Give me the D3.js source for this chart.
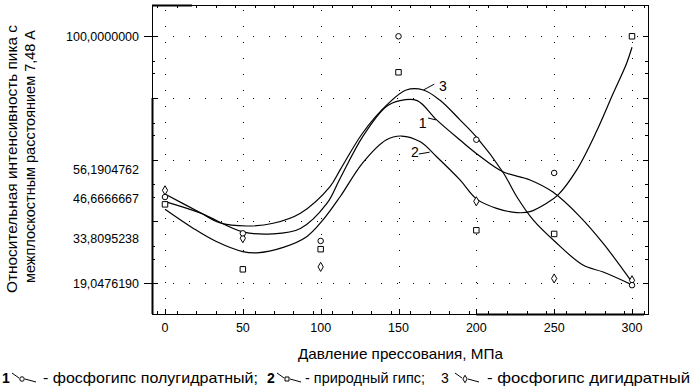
<!DOCTYPE html>
<html>
<head>
<meta charset="utf-8">
<script src="https://cdn.jsdelivr.net/npm/d3@7"></script>
<style>
  body { margin: 0; background: #fff; }
  svg { display: block; font-family: "Liberation Sans", Arial, sans-serif; }
</style>
</head>
<body>
<div id="chart"></div>
<script>
// давление прессования, МПа
const pressure = [0, 50, 100, 150, 200, 250, 300];
// измеренные точки (относительная интенсивность)
const hemihydrate = [47.3, 35.4, 32.9, 100, 66.1, 55.2, 18.4];   // 1 - фосфогипс полугидратный
const naturalGypsum = [44.9, 23.6, 30.2, 88.2, 36.4, 35.2, 100]; // 2 - природный гипс
const dihydrate = [49.5, 33.8, 24.4, null, 45.9, 20.6, 20.0];    // 3 - фосфогипс дигидратный

// сглаживающие кривые [давление, интенсивность]
const fit1 = [[0,45.8],[22.5,42.1],[50,35.9],[69,35.2],[87,37.0],[104,45.2],[112,52.9],[127,67.1],[142,76.9],[151,78.9],[162,78.9],[174.5,72.6],[189.5,66.0],[200,61.6],[217,55.6],[234.5,52.9],[249,49.0],[266.5,40.9],[281.5,32.1],[300,19.4]];
const fit2 = [[0,43.3],[18,37.1],[33,32.7],[50,29.4],[59,29.0],[76,30.8],[91,34.3],[101.5,39.8],[112.5,47.4],[127,58.5],[142,66.0],[152,67.3],[164,65.4],[174.5,60.5],[189.5,52.9],[200,46.7],[213,43.6],[226,42.2],[234.5,42.5],[245,45.2],[252.5,48.0],[264.5,56.2],[277,68.6],[288,81.4],[296.5,91.1],[300,96.4]];
const fit3 = [[0,48.3],[22.5,42.2],[35,38.9],[52.5,37.8],[69.5,38.7],[87,42.0],[106,50.7],[112.5,56.2],[127,68.3],[142.5,77.5],[155,82.4],[166,82.4],[176.5,79.1],[189.5,72.6],[200,67.0],[217,55.5],[226,47.4],[236.5,39.8],[250.5,32.7],[268.5,25.0],[281.5,22.7],[300,18.5]];

const xTicks = [0, 50, 100, 150, 200, 250, 300];
const yLabelValues = [100, 56.1904762, 46.6666667, 33.8095238, 19.047619];
const yLabelText = ["100,0000000", "56,1904762", "46,6666667", "33,8095238", "19,0476190"];
const yMin = 19.047619, yMax = 100;

const legendItems = [
  { num: "1", text: "- фосфогипс полугидратный;", sym: "circle" },
  { num: "2", text: "- природный гипс;", sym: "square" },
  { num: "3", text: "- фосфогипс дигидратный", sym: "diamond" }
];

const W = 692, H = 390;
const frame = { left: 152, right: 648, top: 5, bottom: 314 };

const svg = d3.select("#chart").append("svg")
    .attr("width", W)
    .attr("height", H);

const x = d3.scaleLinear().domain([0, 300]).range([165, 632]);
const y = d3.scaleLinear().domain([yMin, yMax]).range([283.2, 36.3]);

// сетка из редких точек
const yMajor = d3.range(5).map(i => yMin + i * (yMax - yMin) / 4);
const grid = svg.append("g").attr("stroke", "#000").attr("stroke-width", 1)
    .attr("stroke-dasharray", "1,15");
grid.selectAll(".gy").data(yMajor).enter().append("line")
    .attr("x1", frame.left + 5).attr("x2", frame.right - 5)
    .attr("y1", d => Math.round(y(d)) + 0.5).attr("y2", d => Math.round(y(d)) + 0.5);
grid.selectAll(".gx").data(xTicks).enter().append("line")
    .attr("y1", frame.top + 5).attr("y2", frame.bottom - 5)
    .attr("x1", d => Math.round(x(d)) + 0.5).attr("x2", d => Math.round(x(d)) + 0.5);

// рамка
svg.append("rect")
    .attr("x", frame.left + 0.5).attr("y", frame.top + 0.5)
    .attr("width", frame.right - frame.left).attr("height", frame.bottom - frame.top)
    .attr("fill", "none").attr("stroke", "#000").attr("stroke-width", 1);
const thick = svg.append("g").attr("stroke", "#000").attr("stroke-width", 2);
thick.append("line").attr("x1", frame.left + 0.5).attr("x2", frame.left + 0.5)
    .attr("y1", y(yMajor[3])).attr("y2", frame.bottom);
thick.append("line").attr("x1", x(200)).attr("x2", frame.right - 4)
    .attr("y1", frame.bottom + 0.5).attr("y2", frame.bottom + 0.5);
thick.append("line").attr("x1", frame.left).attr("x2", frame.left + 40)
    .attr("y1", frame.top + 0.5).attr("y2", frame.top + 0.5);

// риски
const ticks = svg.append("g").attr("stroke", "#000").attr("stroke-width", 1);
const xMinor = d3.range(-5, 311, 12.5);
xMinor.forEach(v => {
  const px = Math.round(x(v)) + 0.5;
  ticks.append("line").attr("x1", px).attr("x2", px).attr("y1", frame.bottom).attr("y2", frame.bottom - 3);
  ticks.append("line").attr("x1", px).attr("x2", px).attr("y1", frame.top).attr("y2", frame.top + 3);
});
xTicks.forEach(v => {
  const px = Math.round(x(v)) + 0.5;
  ticks.append("line").attr("x1", px).attr("x2", px).attr("y1", frame.bottom).attr("y2", frame.bottom - 5);
});
yMajor.forEach((v, i) => {
  const py = Math.round(y(v)) + 0.5;
  ticks.append("line").attr("x1", frame.left).attr("x2", frame.left + 5).attr("y1", py).attr("y2", py);
  ticks.append("line").attr("x1", frame.right).attr("x2", frame.right - 5).attr("y1", py).attr("y2", py);
  if (i < 4) {
    [0.4, 0.6].forEach(f => {
      const pm = Math.round(y(v + f * (yMax - yMin) / 4)) + 0.5;
      ticks.append("line").attr("x1", frame.left).attr("x2", frame.left + 3).attr("y1", pm).attr("y2", pm);
      ticks.append("line").attr("x1", frame.right).attr("x2", frame.right - 3).attr("y1", pm).attr("y2", pm);
    });
  }
});
[yMax, yMin].forEach(v => {
  const py = Math.round(y(v)) + 0.5;
  ticks.append("line").attr("x1", frame.left - 8).attr("x2", frame.left).attr("y1", py).attr("y2", py);
});

// подписи осей
svg.append("g").selectAll("text").data(yLabelValues).enter().append("text")
    .attr("x", 139).attr("y", d => y(d)).attr("dy", "0.36em")
    .attr("text-anchor", "end").style("font-size", "12.5px")
    .text((d, i) => yLabelText[i]);

svg.append("g").selectAll("text").data(xTicks).enter().append("text")
    .attr("x", d => x(d)).attr("y", 332)
    .attr("text-anchor", "middle").style("font-size", "12.5px")
    .text(d => d);

svg.append("text")
    .attr("x", 298).attr("y", 359)
    .attr("textLength", 205).attr("lengthAdjust", "spacingAndGlyphs")
    .style("font-size", "14.5px")
    .text("Давление прессования, МПа");

svg.append("text")
    .attr("transform", "translate(17,293) rotate(-90)")
    .attr("textLength", 268).attr("lengthAdjust", "spacingAndGlyphs")
    .style("font-size", "14.5px")
    .text("Относительная интенсивность пика с");
svg.append("text")
    .attr("transform", "translate(35,283) rotate(-90)")
    .attr("textLength", 253).attr("lengthAdjust", "spacingAndGlyphs")
    .style("font-size", "14.5px")
    .text("межплоскостным расстоянием 7,48 А");

// кривые
const line = d3.line()
    .x(d => x(d[0]))
    .y(d => y(d[1]))
    .curve(d3.curveCatmullRom.alpha(0.5));

svg.append("g").selectAll("path").data([fit1, fit2, fit3]).enter().append("path")
    .attr("d", line)
    .attr("fill", "none").attr("stroke", "#000").attr("stroke-width", 1.2);

// маркеры
const symbols = {
  circle: d3.symbol().type(d3.symbolCircle).size(24),
  square: d3.symbol().type(d3.symbolSquare).size(30),
  diamond: d3.symbol().type(d3.symbolDiamond).size(24)
};
const series = [
  { values: naturalGypsum, sym: "square" },
  { values: dihydrate, sym: "diamond" },
  { values: hemihydrate, sym: "circle" }
];
series.forEach(s => {
  const pts = s.values.map((v, i) => [pressure[i], v]).filter(p => p[1] != null);
  svg.append("g").selectAll("path").data(pts).enter().append("path")
      .attr("transform", d => "translate(" + x(d[0]) + "," + y(d[1]) + ")")
      .attr("d", symbols[s.sym])
      .attr("fill", "#fff").attr("stroke", "#000").attr("stroke-width", 1);
});

// номера кривых
const curveLabels = [
  { num: "3", from: [166, 82.4], to: [173, 84.3], at: [176, 82.2] },
  { num: "1", from: [174, 72.6], to: [169, 73.2], at: [163, 69.9] },
  { num: "2", from: [170, 62.0], to: [163, 61.4], at: [158, 60.4] }
];
curveLabels.forEach(c => {
  svg.append("line")
      .attr("x1", x(c.from[0])).attr("y1", y(c.from[1]))
      .attr("x2", x(c.to[0])).attr("y2", y(c.to[1]))
      .attr("stroke", "#000").attr("stroke-width", 1);
  svg.append("text")
      .attr("x", x(c.at[0])).attr("y", y(c.at[1]))
      .style("font-size", "14px")
      .text(c.num);
});

// легенда
const legendNumX = [2, 267, 441];
const legendIconX = [12, 277, 455];
const legendTextX = [43, 305, 487];
const legendLen = [215, 120, 203];
const legendY = 383;
legendItems.forEach((item, i) => {
  const g = svg.append("g").attr("transform", "translate(0," + legendY + ")");
  g.append("text").attr("x", legendNumX[i]).attr("y", 0)
      .style("font-size", "14px").style("font-weight", i < 2 ? "bold" : "normal")
      .text(item.num);
  const ic = g.append("g").attr("transform", "translate(" + legendIconX[i] + ",0)");
  ic.append("path").attr("d", "M0,-10 L7,-5 M13,-4 L24,-1")
      .attr("fill", "none").attr("stroke", "#000");
  ic.append("path").attr("transform", "translate(10,-4)")
      .attr("d", symbols[item.sym].size(16)())
      .attr("fill", "#fff").attr("stroke", "#000");
  g.append("text").attr("x", legendTextX[i]).attr("y", 0)
      .attr("textLength", legendLen[i]).attr("lengthAdjust", "spacingAndGlyphs")
      .style("font-size", "14.5px")
      .text(item.text);
});
</script>
</body>
</html>
